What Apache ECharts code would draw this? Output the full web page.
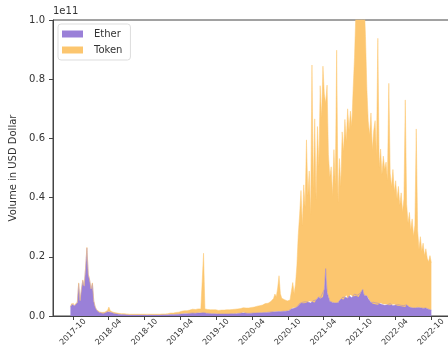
<!DOCTYPE html>
<html>
<head>
<meta charset="utf-8">
<script src="https://cdn.jsdelivr.net/npm/echarts@6/dist/echarts.min.js"></script>
<style>
  html, body { margin: 0; padding: 0; background: #fff; }
  #chart { width: 448px; height: 356px; }
</style>
</head>
<body>
<div id="chart"></div>
<script>
// weekly volume, in billions of USD (axis shows units of 1e11)
const weekStart = [2017, 8, 18]   // 2017-09-18, one point per week
const ether = [
    3, 4, 4.5, 3.5, 4, 4.5, 11, 5, 9, 12,
    10, 16, 23, 14, 12, 9, 11, 5, 3, 2,
    1.5, 1.2, 1.0, 1.0, 0.8, 1.0, 1.2, 1.4, 1.5, 1.3,
    1.2, 1.0, 0.8, 0.8, 0.7, 0.6, 0.6, 0.5, 0.5, 0.5,
    0.4, 0.4, 0.4, 0.3, 0.3, 0.3, 0.3, 0.3, 0.3, 0.3,
    0.3, 0.3, 0.3, 0.3, 0.3, 0.3, 0.4, 0.3, 0.3, 0.3,
    0.3, 0.3, 0.3, 0.3, 0.3, 0.3, 0.3, 0.4, 0.4, 0.4,
    0.4, 0.4, 0.5, 0.5, 0.5, 0.5, 0.5, 0.6, 0.6, 0.6,
    0.7, 0.7, 0.8, 0.8, 0.9, 0.8, 0.8, 0.9, 0.9, 1.0,
    0.9, 0.9, 1.0, 1.0, 1.1, 1.0, 1.0, 1.2, 1.0, 0.9,
    0.9, 0.9, 0.8, 0.8, 0.8, 0.8, 0.8, 0.7, 0.7, 0.7,
    0.7, 0.7, 0.7, 0.7, 0.7, 0.7, 0.7, 0.8, 0.8, 0.8,
    0.8, 0.8, 0.9, 0.9, 0.9, 1.0, 1.2, 1.0, 0.9, 0.9,
    0.9, 0.9, 0.9, 1.0, 1.0, 1.0, 1.0, 1.1, 1.1, 1.1,
    1.1, 1.2, 1.2, 1.2, 1.3, 1.3, 1.3, 1.4, 1.4, 1.4,
    1.5, 1.5, 1.6, 1.5, 1.5, 1.6, 1.7, 1.6, 1.7, 1.8,
    2.0, 2.4, 2.8, 2.6, 2.8, 3.0, 3.4, 4.2, 4.4, 4.6,
    4.3, 4.8, 4.5, 4.7, 5.0, 4.4, 4.8, 5.2, 4.6, 5.4,
    6.0, 6.5, 5.8, 7.0, 6.4, 9.0, 16.0, 8.0, 6.5, 5.0,
    4.4, 4.6, 4.2, 4.4, 4.8, 4.5, 5.2, 5.8, 6.2, 5.6,
    6.4, 7.0, 6.0, 6.8, 7.2, 6.2, 6.6, 7.4, 6.8, 7.0,
    6.4, 7.6, 8.2, 9.0, 7.0, 6.4, 6.8, 5.8, 5.2, 4.6,
    4.2, 4.6, 4.0, 4.4, 3.8, 4.2, 4.4, 3.9, 4.0, 3.6,
    4.0, 3.8, 3.6, 4.2, 3.8, 3.5, 4.0, 3.7, 3.5, 3.8,
    3.4, 3.6, 3.2, 3.5, 3.0, 3.8, 3.3, 3.0, 3.2, 2.8,
    3.0, 2.7, 3.2, 2.9, 2.6, 2.8, 3.0, 2.6, 2.4, 2.7,
    2.5, 2.3, 2.4, 2.0
]
const token = [
    0.2, 0.2, 0.2, 0.2, 0.2, 0.2, 0.2, 0.2, 0.2, 0.2,
    0.2, 0.2, 0.2, 0.2, 0.2, 0.2, 0.2, 0.2, 0.2, 0.2,
    0.2, 0.2, 0.2, 0.2, 0.2, 0.3, 0.3, 0.5, 1.5, 0.5,
    0.4, 0.3, 0.3, 0.3, 0.3, 0.3, 0.3, 0.3, 0.3, 0.3,
    0.3, 0.3, 0.3, 0.3, 0.3, 0.3, 0.3, 0.3, 0.3, 0.3,
    0.3, 0.3, 0.3, 0.3, 0.3, 0.3, 0.3, 0.3, 0.3, 0.3,
    0.3, 0.3, 0.3, 0.3, 0.3, 0.3, 0.3, 0.3, 0.3, 0.3,
    0.4, 0.4, 0.4, 0.5, 0.5, 0.5, 0.6, 0.6, 0.7, 0.7,
    0.8, 0.9, 1.0, 1.0, 1.1, 1.0, 1.2, 1.1, 1.2, 1.3,
    1.2, 1.3, 1.2, 1.4, 1.3, 1.4, 1.5, 20, 1.4, 1.3,
    1.3, 1.4, 1.3, 1.2, 1.3, 1.2, 1.3, 1.3, 1.2, 1.3,
    1.3, 1.4, 1.3, 1.4, 1.4, 1.5, 1.4, 1.5, 1.4, 1.5,
    1.5, 1.6, 1.5, 1.6, 1.6, 1.7, 1.6, 1.7, 1.8, 1.7,
    1.8, 1.9, 2.0, 2.1, 2.0, 2.2, 2.3, 2.2, 2.4, 2.5,
    2.6, 2.8, 3.0, 3.2, 3.0, 3.4, 3.6, 3.8, 4.5, 6.0,
    5.0, 8.0, 12.0, 6.0, 4.5, 4.0, 3.8, 3.6, 3.4, 3.2,
    3.4, 6.0, 8.5, 5.0, 8.0, 14, 24, 30, 38, 26,
    40, 32, 55, 36, 44, 30, 80, 38, 62, 34,
    58, 44, 72, 60, 78, 66, 56, 70, 48, 42,
    46, 36, 52, 40, 85, 34, 48, 38, 56, 50,
    60, 52, 64, 56, 62, 58, 70, 80, 96, 110,
    120, 105, 92, 118, 100, 88, 70, 60, 56, 64,
    52, 58, 62, 50, 90, 46, 52, 44, 50, 46,
    48, 42, 75, 44, 40, 46, 38, 42, 36, 40,
    34, 38, 32, 36, 70, 34, 28, 32, 26, 30,
    24, 28, 60, 26, 20, 24, 19, 22, 18, 20,
    17, 16, 18, 16
]
const xTicks = ['2017-10', '2018-04', '2018-10', '2019-04', '2019-10', '2020-04',
    '2020-10', '2021-04', '2021-10', '2022-04', '2022-10']

const DAY = 86400000
const t0 = new Date(weekStart[0], weekStart[1], weekStart[2]).getTime()
const dates = ether.map((_, i) => t0 + i * 7 * DAY)
const tickTimes = xTicks.map(s => {
    const [y, m] = s.split('-').map(Number)
    return new Date(y, m - 1, 1).getTime()
})
const xMin = new Date(2017, 5, 21).getTime()
const xMax = new Date(2023, 0, 1).getTime()

const purple = '#9a80d8'
const orange = '#fcc66f'
const font = 'DejaVu Sans'

const chart = echarts.init(document.getElementById('chart'), null, { renderer: 'canvas' })
chart.setOption({
    animation: false,
    textStyle: { fontFamily: font },
    grid: {
        left: 53, top: 20, right: -1, bottom: 40,
        show: true, borderColor: '#444', borderWidth: 1,
        outerBoundsMode: 'none'
    },
    legend: {
        left: 58, top: 24,
        orient: 'vertical',
        icon: 'rect',
        itemWidth: 21, itemHeight: 7, itemGap: 6,
        padding: [5, 8, 5, 4],
        backgroundColor: 'rgba(255,255,255,0.85)',
        borderColor: '#ddd', borderWidth: 1, borderRadius: 3,
        textStyle: { fontFamily: font, fontSize: 10, color: '#333', padding: [0, 0, 0, 6] },
        data: ['Ether', 'Token']
    },
    xAxis: [
        // time axis carries the series (so stacking runs over volume), kept hidden
        { type: 'time', min: xMin, max: xMax, show: false },
        // twin value axis only for the half-year ticks and labels
        {
            type: 'value', min: xMin, max: xMax, position: 'bottom',
            axisLine: { lineStyle: { color: '#444' } },
            axisTick: { length: 4, customValues: tickTimes, lineStyle: { color: '#444' } },
            axisLabel: {
                customValues: tickTimes,
                rotate: 45, align: 'center', verticalAlign: 'middle',
                margin: 16,
                fontSize: 8, color: '#333', fontFamily: font,
                formatter: v => {
                    const d = new Date(v)
                    return d.getFullYear() + '-' + String(d.getMonth() + 1).padStart(2, '0')
                }
            },
            splitLine: { show: false }
        }
    ],
    yAxis: {
        type: 'value',
        min: 0, max: 100, interval: 20,
        name: 'Volume in USD Dollar',
        nameLocation: 'middle', nameGap: 31,
        nameTextStyle: { fontFamily: font, fontSize: 10, color: '#333' },
        axisLine: { show: true, lineStyle: { color: '#444' } },
        axisTick: { show: true, length: 4, lineStyle: { color: '#444' } },
        axisLabel: {
            margin: 8, fontSize: 10, color: '#333', fontFamily: font,
            formatter: v => (v / 100).toFixed(1)
        },
        splitLine: { show: false }
    },
    graphic: [{
        type: 'text', left: 53, top: 6,
        style: { text: '1e11', fontFamily: font, fontSize: 10, fill: '#333' }
    }],
    series: [
        {
            name: 'Ether', type: 'line', stack: 'vol', xAxisIndex: 0,
            data: dates.map((d, i) => [d, ether[i]]),
            showSymbol: false, symbol: 'none',
            color: purple,
            lineStyle: { width: 0.5, color: purple },
            areaStyle: { color: purple, opacity: 1 }
        },
        {
            name: 'Token', type: 'line', stack: 'vol', xAxisIndex: 0,
            data: dates.map((d, i) => [d, token[i]]),
            showSymbol: false, symbol: 'none',
            color: orange,
            lineStyle: { width: 0.5, color: orange },
            areaStyle: { color: orange, opacity: 1 }
        }
    ]
})
</script>
</body>
</html>
